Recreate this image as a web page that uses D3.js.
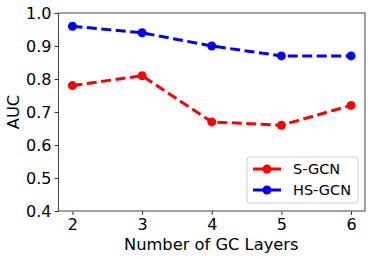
<!DOCTYPE html>
<html><head><meta charset="utf-8">
<script src="https://cdn.jsdelivr.net/npm/d3@7"></script>
<style>body{margin:0;background:#fff}svg{display:block}text{font-family:"DejaVu Sans",sans-serif;fill:#000}</style>
</head><body><svg id="c" width="374" height="261"></svg>
<script>
const layers = [2, 3, 4, 5, 6];
const sGCN = [0.78, 0.81, 0.67, 0.66, 0.72];
const hsGCN = [0.96, 0.94, 0.90, 0.87, 0.87];
const yTicks = [0.4, 0.5, 0.6, 0.7, 0.8, 0.9, 1.0];
const seriesNames = ["S-GCN", "HS-GCN"];
const seriesColors = ["#ff0000", "#0000ff"];

const svg = d3.select("#c");
const L = 58.5, R = 365, T = 13, B = 211;
const x = d3.scaleLinear().domain([1.8, 6.2]).range([L, R]);
const y = d3.scaleLinear().domain([0.4, 1.0]).range([B, T]);

const xa = svg.append("g").attr("transform", `translate(0,${B})`)
  .call(d3.axisBottom(x).tickValues(layers).tickFormat(d3.format("d")).tickSize(4).tickPadding(4));
const ya = svg.append("g").attr("transform", `translate(${L},0)`)
  .call(d3.axisLeft(y).tickValues(yTicks).tickFormat(d3.format(".1f")).tickSize(4).tickPadding(3));
[xa, ya].forEach(a => {
  a.select(".domain").remove();
  a.selectAll("text").attr("font-size", 16).attr("font-family", "DejaVu Sans");
  a.selectAll("line").attr("stroke", "#333");
});
svg.append("rect").attr("x", L).attr("y", T).attr("width", R - L).attr("height", B - T)
  .attr("fill", "none").attr("stroke", "#444").attr("stroke-width", 1);

const line = d3.line().x((d, i) => x(layers[i])).y(d => y(d));
[sGCN, hsGCN].forEach((vals, k) => {
  svg.append("path").datum(vals).attr("d", line).attr("fill", "none")
    .attr("stroke", seriesColors[k]).attr("stroke-width", 3).attr("stroke-dasharray", "10,4.5");
  svg.selectAll(null).data(vals).enter().append("circle")
    .attr("cx", (d, i) => x(layers[i])).attr("cy", d => y(d)).attr("r", 4.5).attr("fill", seriesColors[k]);
});

svg.append("text").attr("x", (L + R) / 2 - 0.5).attr("y", 250).attr("text-anchor", "middle")
  .attr("font-size", 16.3).text("Number of GC Layers");
svg.append("text").attr("transform", `translate(19,${(T + B) / 2}) rotate(-90)`).attr("text-anchor", "middle")
  .attr("font-size", 16.3).text("AUC");

const lg = svg.append("g");
lg.append("rect").attr("x", 247).attr("y", 157).attr("width", 111).attr("height", 46).attr("rx", 3)
  .attr("fill", "#fff").attr("fill-opacity", 0.8).attr("stroke", "#ccc");
seriesNames.forEach((n, k) => {
  const yy = 169 + k * 21;
  lg.append("line").attr("x1", 253).attr("x2", 281).attr("y1", yy).attr("y2", yy)
    .attr("stroke", seriesColors[k]).attr("stroke-width", 3);
  lg.append("circle").attr("cx", 267).attr("cy", yy).attr("r", 4.5).attr("fill", seriesColors[k]);
  lg.append("text").attr("x", 293).attr("y", yy + 5).attr("font-size", 14.5).text(n);
});
</script></body></html>
